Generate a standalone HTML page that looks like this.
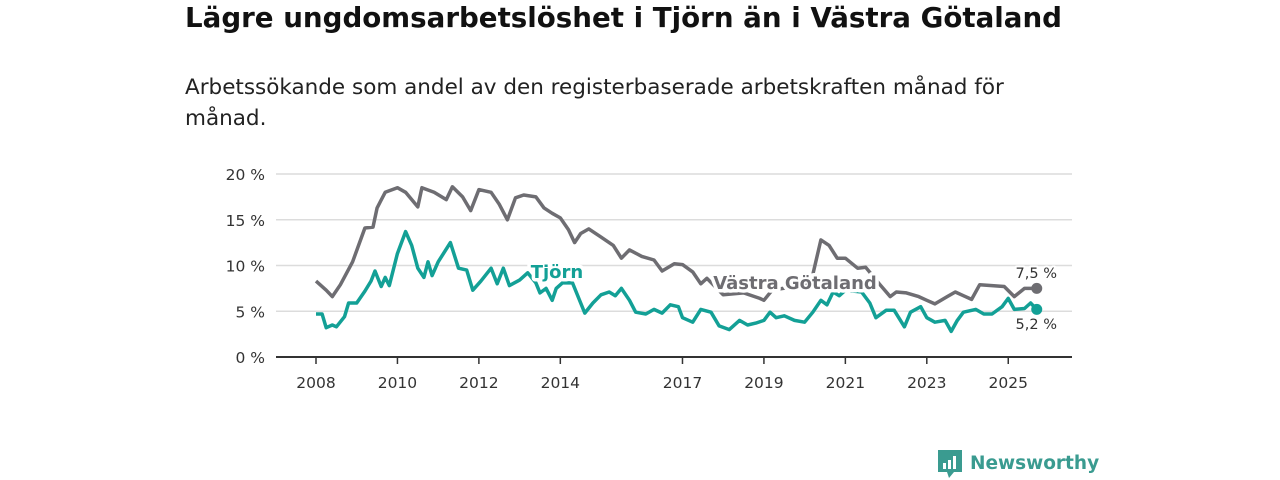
<!DOCTYPE html>
<html><head><meta charset="utf-8"><style>
body{margin:0;width:1280px;height:480px;background:#fff;font-family:"DejaVu Sans","Liberation Sans",sans-serif;overflow:hidden;position:relative}
h1{position:absolute;left:185px;top:1px;margin:0;font-size:27.7px;font-weight:bold;color:#111;white-space:nowrap}
.sub{position:absolute;left:185px;top:72px;width:860px;margin:0;font-size:21.5px;line-height:31px;color:#222}
svg{position:absolute;left:0;top:0}
</style></head><body>
<h1>Lägre ungdomsarbetslöshet i Tjörn än i Västra Götaland</h1>
<p class="sub">Arbetssökande som andel av den registerbaserade arbetskraften månad för månad.</p>
<svg id="c" width="1280" height="480"></svg>
<script>
const yTicks=[0,5,10,15,20];
const yTickLabels=["0 %","5 %","10 %","15 %","20 %"];
const xTicks=[2008,2010,2012,2014,2017,2019,2021,2023,2025];
const vgT=[2008.0,2008.25,2008.4,2008.6,2008.9,2009.2,2009.4,2009.5,2009.7,2010.0,2010.2,2010.5,2010.6,2010.9,2011.2,2011.35,2011.6,2011.8,2012.0,2012.3,2012.5,2012.7,2012.9,2013.1,2013.4,2013.6,2013.8,2014.0,2014.2,2014.35,2014.5,2014.7,2015.0,2015.3,2015.5,2015.7,2016.0,2016.3,2016.5,2016.8,2017.0,2017.25,2017.45,2017.6,2018.0,2018.5,2018.9,2019.0,2019.2,2019.6,2020.0,2020.2,2020.4,2020.6,2020.8,2021.0,2021.3,2021.5,2021.85,2022.1,2022.25,2022.5,2022.8,2023.0,2023.2,2023.5,2023.7,2023.9,2024.1,2024.3,2024.6,2024.9,2025.15,2025.4,2025.7];
const vgV=[8.3,7.3,6.6,7.9,10.4,14.1,14.2,16.3,18,18.5,18,16.4,18.5,18,17.2,18.6,17.5,16,18.3,18,16.7,15,17.4,17.7,17.5,16.3,15.7,15.2,13.9,12.5,13.5,14,13.1,12.2,10.8,11.7,11,10.6,9.4,10.2,10.1,9.3,8,8.6,6.8,7,6.4,6.2,7.3,7.6,7.4,9,12.8,12.2,10.8,10.8,9.7,9.8,7.9,6.6,7.1,7,6.6,6.2,5.8,6.6,7.1,6.7,6.3,7.9,7.8,7.7,6.6,7.5,7.5];
const tjT=[2008.0,2008.15,2008.25,2008.4,2008.5,2008.7,2008.8,2009.0,2009.2,2009.35,2009.45,2009.6,2009.7,2009.8,2010.0,2010.2,2010.35,2010.5,2010.65,2010.75,2010.85,2011.0,2011.3,2011.5,2011.7,2011.85,2012.05,2012.3,2012.45,2012.6,2012.75,2013.0,2013.2,2013.4,2013.5,2013.65,2013.8,2013.9,2014.05,2014.3,2014.6,2014.8,2015.0,2015.2,2015.35,2015.5,2015.7,2015.85,2016.1,2016.3,2016.5,2016.7,2016.9,2017.0,2017.25,2017.45,2017.7,2017.9,2018.15,2018.4,2018.6,2018.8,2019.0,2019.15,2019.3,2019.5,2019.75,2020.0,2020.2,2020.4,2020.55,2020.7,2020.85,2021.0,2021.4,2021.6,2021.75,2022.0,2022.2,2022.45,2022.6,2022.85,2023.0,2023.2,2023.45,2023.6,2023.75,2023.9,2024.2,2024.4,2024.6,2024.85,2025.0,2025.15,2025.4,2025.55,2025.7];
const tjV=[4.7,4.7,3.2,3.5,3.3,4.4,5.9,5.9,7.2,8.3,9.4,7.7,8.7,7.8,11.3,13.7,12.2,9.7,8.7,10.4,8.9,10.4,12.5,9.7,9.5,7.3,8.3,9.7,8,9.7,7.8,8.4,9.2,8.1,7,7.5,6.2,7.5,8.1,8.1,4.8,5.9,6.8,7.1,6.7,7.5,6.2,4.9,4.7,5.2,4.8,5.7,5.5,4.3,3.8,5.2,4.9,3.4,3.0,4,3.5,3.7,4,4.9,4.3,4.5,4,3.8,4.9,6.2,5.7,7.1,6.7,7.3,7.1,5.9,4.3,5.1,5.1,3.3,4.9,5.5,4.3,3.8,4,2.8,4,4.9,5.2,4.7,4.7,5.5,6.4,5.2,5.3,5.9,5.2];
const NS="http://www.w3.org/2000/svg";
const svg=document.getElementById('c');
const X=t=>316+(t-2008)*40.72;
const Y=v=>357-v*9.15;
function mk(tag,attrs,parent){const e=document.createElementNS(NS,tag);for(const k in attrs)e.setAttribute(k,attrs[k]);(parent||svg).appendChild(e);return e;}
yTicks.forEach((v,i)=>{
 if(v>0){const g=mk('line',{x1:276,x2:1072,y1:Y(v),y2:Y(v),stroke:'#dcdcdc','stroke-width':1.5});
 
 }
 const t=mk('text',{x:265,y:Y(v)+6,'text-anchor':'end','font-size':15.5,fill:'#333'});t.textContent=yTickLabels[i];
 
 
});
const ax=mk('line',{x1:276,x2:1072,y1:357,y2:357,stroke:'#333','stroke-width':2});


xTicks.forEach(y=>{
 const l=mk('line',{x1:X(y),x2:X(y),y1:357,y2:364,stroke:'#333','stroke-width':1.5});
 
 
 const t=mk('text',{x:X(y),y:388,'text-anchor':'middle','font-size':15.5,fill:'#333'});t.textContent=y;
 
 
});
function line(T,V,col,name){
 const d=T.map((t,i)=>(i?'L':'M')+X(t).toFixed(1)+','+Y(V[i]).toFixed(1)).join('');
 const p=mk('path',{d:d,fill:'none',stroke:col,'stroke-width':3.5,'stroke-linejoin':'round'});
 
 
 const n=T.length-1;
 const c=mk('circle',{cx:X(T[n]),cy:Y(V[n]),r:5.5,fill:col});
 
 
}
line(vgT,vgV,'#6e6d72','vastra-gotaland');
line(tjT,tjV,'#13a096','tjorn');
function lab(x,y,txt,col,name,anchor,bold,size){
 const t=mk('text',{x:x,y:y,'text-anchor':anchor,'font-size':size,'font-weight':bold?'bold':'normal',fill:col,stroke:'#fff','stroke-width':bold?7:4,'paint-order':'stroke','stroke-linejoin':'round'});
 t.textContent=txt;
 
 
}
lab(557,278,'Tjörn','#13a096','tjorn-label','middle',true,18);
lab(795,289,'Västra Götaland','#6e6d72','vastra-gotaland-label','middle',true,18);
lab(1057,278,'7,5 %','#333','vastra-gotaland-last-value','end',false,14.5);
lab(1057,329,'5,2 %','#333','tjorn-last-value','end',false,14.5);
const g=mk('g',{});


mk('path',{d:'M938,450 h24 v22 h-8 l-5,6 l-2,-6 h-9 z',fill:'#3a9b90'},g);
mk('rect',{x:943,y:463,width:3,height:6,fill:'#fff'},g);
mk('rect',{x:948,y:460,width:3,height:9,fill:'#fff'},g);
mk('rect',{x:953,y:456,width:3,height:13,fill:'#fff'},g);
const lt=mk('text',{x:970,y:469,'font-size':18.5,'font-weight':'bold',fill:'#3a9b90'},g);lt.textContent='Newsworthy';
</script>
</body></html>
